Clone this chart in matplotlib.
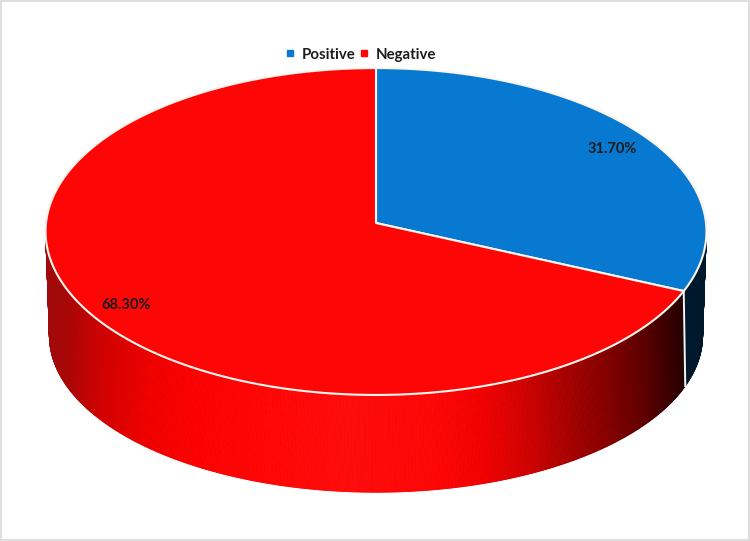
import numpy as np
import matplotlib
matplotlib.use("Agg")
import matplotlib.pyplot as plt
from matplotlib.collections import PolyCollection
from matplotlib.lines import Line2D
from matplotlib.patches import Polygon, Rectangle

categories = ["Positive", "Negative"]
values = [31.7, 68.3]
percent_labels = ["31.70%", "68.30%"]
top_colors = ["#0779D0", "#FE0606"]
label_pos = [(612, 149), (126, 305)]

# pixel-space projection of the tilted disc
CX, HUB_Y = 376, 223
A_T, B_T, K_T = 330.0, 163.0, 0.052
HUB_B, A_B, B_B, K_B = 320, 325.0, 155.0, 0.10


def proj(theta, a, b, k, hub):
    """theta measured clockwise from 12 o'clock, in radians."""
    c, s = np.sin(theta), -np.cos(theta)
    w = 1 - k * s
    return CX + a * c / w, hub + b * s / w


def red_shade(x):
    xs = [46, 70, 100, 150, 200, 350, 440, 480, 520, 560, 600, 640, 684]
    rs = [160, 170, 205, 238, 252, 255, 252, 240, 210, 170, 135, 95, 35]
    gb = [10, 6, 2, 0, 0, 10, 4, 0, 0, 0, 0, 0, 0]
    return (np.interp(x, xs, rs) / 255, np.interp(x, xs, gb) / 255, np.interp(x, xs, gb) / 255)


fig = plt.figure(figsize=(7.5, 5.41), dpi=100)
ax = fig.add_axes([0, 0, 1, 1])
ax.set_xlim(0, 750)
ax.set_ylim(541, 0)
ax.axis("off")

fracs = np.array(values) / sum(values)
bounds = np.concatenate([[0], np.cumsum(fracs)]) * 2 * np.pi

# side wall
quads, cols = [], []
for i in range(2):
    n = max(int((bounds[i + 1] - bounds[i]) / 0.004), 2)
    ts = np.linspace(bounds[i], bounds[i + 1], n + 1)
    for t0, t1 in zip(ts[:-1], ts[1:]):
        if -np.cos((t0 + t1) / 2) < -0.25:
            continue
        x0, y0 = proj(t0, A_T, B_T, K_T, HUB_Y)
        x1, y1 = proj(t1, A_T, B_T, K_T, HUB_Y)
        x2, y2 = proj(t1, A_B, B_B, K_B, HUB_B)
        x3, y3 = proj(t0, A_B, B_B, K_B, HUB_B)
        quads.append([(x0, y0), (x1, y1), (x2, y2), (x3, y3)])
        cols.append((0, 0.095, 0.17) if i == 0 else red_shade((x0 + x1) / 2))
ax.add_collection(PolyCollection(quads, facecolors=cols, edgecolors=cols, linewidths=0.6, zorder=1))

# white seam between the two wall segments
sx0, sy0 = proj(bounds[1], A_T, B_T, K_T, HUB_Y)
sx1, sy1 = proj(bounds[1], A_B, B_B, K_B, HUB_B)
ax.plot([sx0, sx1], [sy0, sy1], color="#F4F4F4", lw=1.4, zorder=2)

# top face
for i in range(2):
    ts = np.linspace(bounds[i], bounds[i + 1], 400)
    xs, ys = proj(ts, A_T, B_T, K_T, HUB_Y)
    pts = np.column_stack([np.r_[CX, xs], np.r_[HUB_Y, ys]])
    ax.add_patch(Polygon(pts, closed=True, facecolor=top_colors[i], edgecolor="#FBF5EE",
                         linewidth=1.5, joinstyle="round", zorder=3))

for txt, (x, y) in zip(percent_labels, label_pos):
    ax.text(x, y, txt, ha="center", va="center", fontsize=10.5, zorder=5,
            family="Lato", fontweight="bold", color="#1C1C1C")

handles = [Line2D([], [], ls="none", marker="s", ms=5.0, color=c) for c in top_colors]
leg = ax.legend(handles, categories, loc="center", bbox_to_anchor=(360 / 750, 1 - 54.5 / 541),
                ncol=2, frameon=False, handletextpad=0.4, columnspacing=0.12, handlelength=0.8,
                prop=dict(family="Lato", weight="bold", size=10.8), labelcolor="#1C1C1C")

# thin grey frame of the picture
for r in [(0, 0, 750, 2), (0, 539, 750, 2), (0, 0, 2, 541), (748, 0, 2, 541)]:
    ax.add_patch(Rectangle((r[0], r[1]), r[2], r[3], facecolor="#DEDEDE", edgecolor="none", zorder=6))

fig.savefig("out.png", dpi=100, facecolor="white")
